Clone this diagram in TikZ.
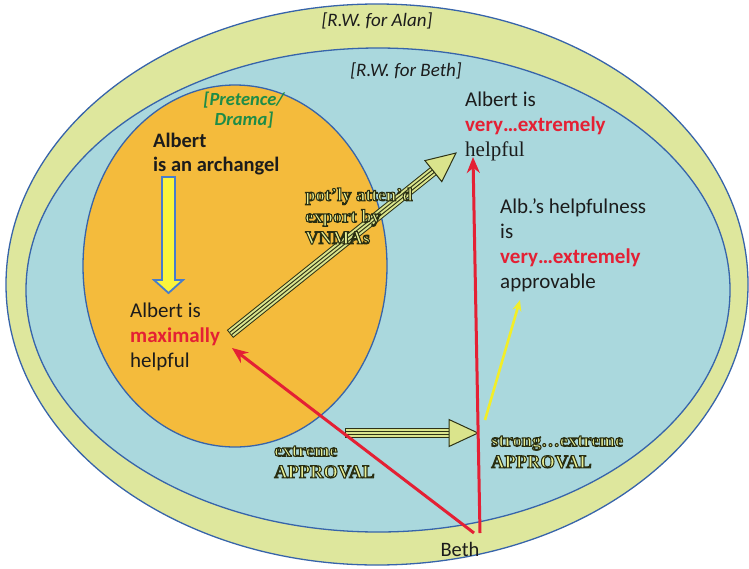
\documentclass[tikz,border=0pt]{standalone}
\usepackage{fontspec}
\setmainfont{Carlito}
\newfontfamily\serifface{Liberation Serif}
\usetikzlibrary{arrows.meta,calc}

\definecolor{alanfill}{RGB}{222,231,157}
\definecolor{bethfill}{RGB}{170,216,221}
\definecolor{pretfill}{RGB}{244,187,60}
\definecolor{rim}{RGB}{55,100,170}
\definecolor{albred}{RGB}{228,32,52}
\definecolor{pretgreen}{RGB}{30,140,72}
\definecolor{inktext}{RGB}{28,28,28}
\definecolor{oltfill}{RGB}{232,240,150}
\definecolor{stripelt}{RGB}{218,228,140}
\definecolor{stripedk}{RGB}{45,50,22}
\definecolor{downfill}{RGB}{250,244,60}
\definecolor{downrim}{RGB}{70,125,205}
\definecolor{approvey}{RGB}{242,238,40}

% outlined serif lettering: pale fill, stroked with a dark olive edge
\newcommand\olt[1]{{\color{oltfill}%
  \special{pdf:literal direct 0.16 0.18 0.07 RG 1.05 w 2 Tr}#1%
  \special{pdf:literal direct 0 Tr}}}

% broad striped arrow from #1 to #2
\newcommand\stripearrow[2]{%
  \coordinate (sa-b) at ($(#2)!29pt!(#1)$);
  \coordinate (sa-s) at ($(#1)!1pt!(sa-b)$);
  \draw[line width=10pt,stripedk] (#1) -- (sa-b);
  \draw[line width=8pt,stripelt] (sa-s) -- (sa-b);
  \draw[line width=4pt,stripedk] (sa-s) -- (sa-b);
  \draw[line width=1.8pt,stripelt] (sa-s) -- (sa-b);
  \filldraw[fill=stripelt,draw=stripedk,line width=1pt,line join=miter]
    (#2) -- ($(sa-b)!13.5pt!90:(#2)$) -- ($(sa-b)!13.5pt!-90:(#2)$) -- cycle;}

\tikzset{
  world/.style={draw=rim,line width=1.3pt},
  sanslbl/.style={inner sep=0pt,text=inktext,font=\fontsize{21}{25}\selectfont,align=left},
  outlbl/.style={inner sep=0pt,anchor=west,align=left,font=\serifface\bfseries\fontsize{18.5}{21.5}\selectfont},
  redarrow/.style={draw=albred,line width=3pt,-{Stealth[length=16pt,width=13pt]}},
  thinyellow/.style={draw=approvey,line width=2.6pt,-{Stealth[length=11pt,width=9pt]}}
}

\begin{document}
\begin{tikzpicture}[x=1pt,y=-1pt]
\useasboundingbox (0,0) rectangle (749,568);

% nested worlds
\filldraw[world,fill=alanfill] (377,284.5) ellipse [x radius=371pt,y radius=280.5pt];
\filldraw[world,fill=bethfill] (378,290) ellipse [x radius=352pt,y radius=242pt];
\filldraw[world,fill=pretfill] (235,266) ellipse [x radius=152pt,y radius=181pt];

% world labels
\node[sanslbl,font=\itshape\fontsize{19}{22}\selectfont] (alanrw) at (377,21) {[R.W. for Alan]};
\node[sanslbl,font=\itshape\fontsize{19}{22}\selectfont] (bethrw) at (406,71) {[R.W. for Beth]};
\node[sanslbl,text=pretgreen,align=center,font=\bfseries\itshape\fontsize{18.5}{20.5}\selectfont] (pret) at (244,110) {[Pretence/\\Drama]};

% propositions
\node[sanslbl,anchor=west,font=\bfseries\fontsize{20.5}{24}\selectfont] (arch) at (153,154) {Albert\\is an archangel};
\node[sanslbl,anchor=west] (maxh) at (130,337) {Albert is\\\textcolor{albred}{\bfseries maximally}\\helpful};
\node[sanslbl,anchor=west] (veryh) at (465,126) {Albert is\\\textcolor{albred}{\bfseries very…extremely}\\{\serifface\fontsize{21}{25}\selectfont helpful}};
\node[sanslbl,anchor=west] (approv) at (500,245) {Alb.’s helpfulness\\is\\\textcolor{albred}{\bfseries very…extremely}\\approvable};
\node[sanslbl,font=\fontsize{20.5}{24}\selectfont] (bethn) at (460,549) {Beth};

% downward yellow arrow: archangel -> maximally helpful
\filldraw[fill=downfill,draw=downrim,line width=1.8pt,line join=miter]
  (162,177) -- (175,177) -- (175,280) -- (183,280) -- (168.5,293) -- (154,280) -- (162,280) -- cycle;

% anchor points of the connectors
\coordinate (expS) at (230,334);
\coordinate (expT) at (456,153);
\coordinate (aprS) at (345,433);
\coordinate (aprT) at (478,433);
\coordinate (bethL) at (474,533);
\coordinate (bethR) at (480,533);
\coordinate (maxT) at (232,348);
\coordinate (veryT) at (473,157);
\coordinate (yelS) at (485,420);
\coordinate (yelT) at (520,300);

% connectors
\stripearrow{expS}{expT}
\stripearrow{aprS}{aprT}
\draw[redarrow] (bethL) -- (maxT);
\draw[redarrow] (bethR) -- (veryT);
\draw[thinyellow] (yelS) -- (yelT);

% outlined labels, set over the arrows
\node[outlbl] (export) at (305,216) {\olt{pot’ly atten’d}\\\olt{export by}\\\olt{VNMAs}};
\node[outlbl] (extr) at (274,462) {\olt{extreme}\\\olt{APPROVAL}};
\node[outlbl] (strong) at (491,452) {\olt{strong…extreme}\\\olt{APPROVAL}};
\end{tikzpicture}
\end{document}
